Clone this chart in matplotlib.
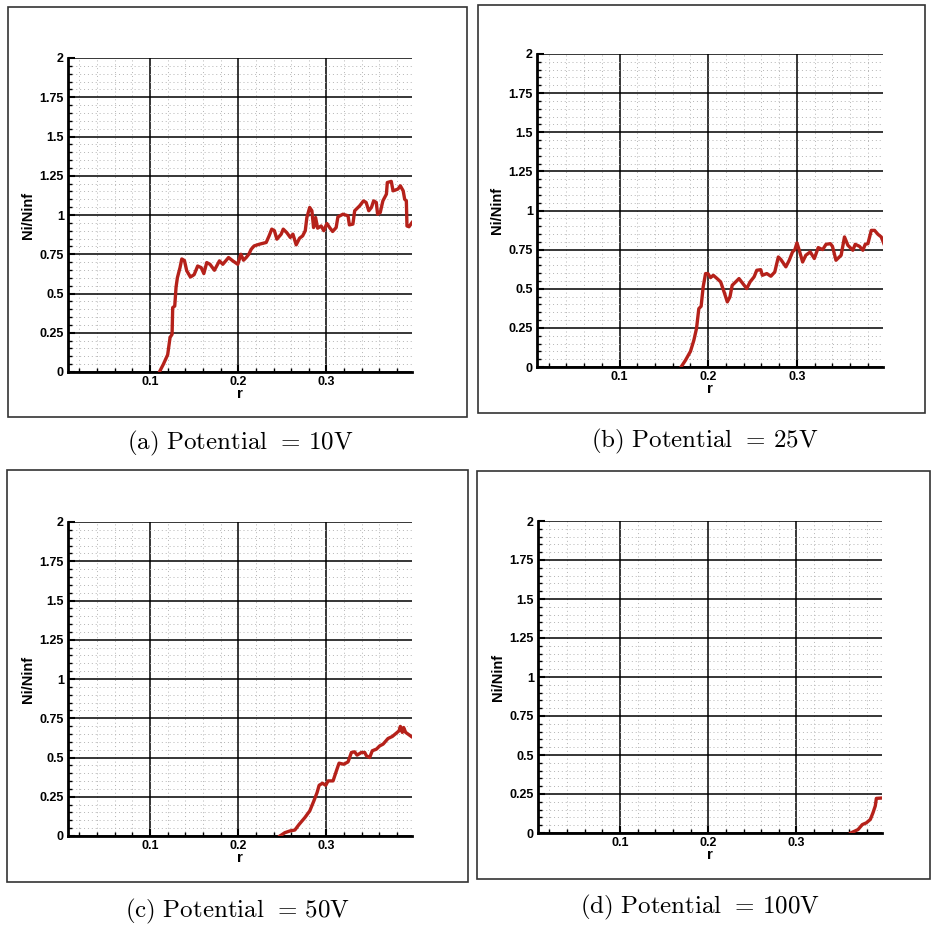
import matplotlib
matplotlib.use('Agg')
import matplotlib.pyplot as plt
import matplotlib.patches as patches
from matplotlib.ticker import MultipleLocator

plt.rcParams['mathtext.fontset'] = 'cm'
plt.rcParams['font.family'] = ['Liberation Sans', 'DejaVu Sans']

# Ni/Ninf profiles along r
r_10v = [0.1106, 0.1151, 0.120, 0.1227, 0.125, 0.1257, 0.128, 0.1295, 0.131, 0.134, 0.136, 0.139,
         0.1416, 0.1458, 0.150, 0.154, 0.158, 0.161, 0.1643, 0.168, 0.173, 0.1787, 0.1825, 0.189,
         0.1938, 0.1995, 0.203, 0.206, 0.209, 0.212, 0.2147, 0.218, 0.224, 0.2317, 0.235, 0.238,
         0.241, 0.2438, 0.2487, 0.251, 0.255, 0.259, 0.262, 0.2657, 0.2695, 0.273, 0.276, 0.2778,
         0.281, 0.2835, 0.2854, 0.2877, 0.290, 0.294, 0.297, 0.3005, 0.3036, 0.307, 0.311, 0.313,
         0.3187, 0.3245, 0.326, 0.330, 0.332, 0.3376, 0.342, 0.345, 0.348, 0.351, 0.3535, 0.3565,
         0.358, 0.361, 0.364, 0.368, 0.369, 0.3735, 0.3755, 0.381, 0.3838, 0.387, 0.3887, 0.3906,
         0.3913, 0.3936, 0.397]
n_10v = [0.0, 0.049, 0.11, 0.22, 0.24, 0.41, 0.42, 0.54, 0.60, 0.665, 0.72, 0.71,
         0.645, 0.605, 0.62, 0.675, 0.665, 0.627, 0.697, 0.686, 0.648, 0.708, 0.686, 0.729,
         0.708, 0.686, 0.75, 0.712, 0.729, 0.75, 0.782, 0.803, 0.814, 0.825, 0.867, 0.91,
         0.90, 0.846, 0.878, 0.91, 0.888, 0.857, 0.878, 0.81, 0.852, 0.867, 0.90, 0.984,
         1.048, 1.027, 0.92, 0.984, 0.916, 0.93, 0.90, 0.946, 0.92, 0.895, 0.92, 0.988,
         1.005, 0.995, 0.937, 0.942, 1.027, 1.058, 1.09, 1.08, 1.027, 1.048, 1.09, 1.08,
         1.005, 1.016, 1.09, 1.133, 1.207, 1.214, 1.154, 1.165, 1.186, 1.154, 1.10, 1.09,
         0.93, 0.925, 0.952]

r_25v = [0.1694, 0.1743, 0.180, 0.1838, 0.1868, 0.1894, 0.192, 0.1943, 0.197, 0.1996, 0.2026,
         0.2057, 0.210, 0.214, 0.2185, 0.2215, 0.2245, 0.227, 0.231, 0.2347, 0.2385, 0.2434,
         0.2472, 0.2517, 0.2547, 0.2592, 0.261, 0.266, 0.2706, 0.275, 0.279, 0.282, 0.2875,
         0.2913, 0.295, 0.2977, 0.300, 0.3026, 0.3064, 0.310, 0.315, 0.3196, 0.324, 0.329,
         0.3328, 0.3377, 0.340, 0.344, 0.3498, 0.3536, 0.3574, 0.363, 0.3657, 0.3705, 0.3743,
         0.377, 0.380, 0.3838, 0.3875, 0.3913, 0.395, 0.398]
n_25v = [0.0, 0.0425, 0.10, 0.171, 0.246, 0.373, 0.388, 0.512, 0.597, 0.597, 0.571,
         0.586, 0.565, 0.544, 0.469, 0.416, 0.448, 0.522, 0.544, 0.565, 0.537, 0.501,
         0.544, 0.576, 0.618, 0.622, 0.586, 0.597, 0.58, 0.607, 0.703, 0.686, 0.64,
         0.682, 0.735, 0.75, 0.793, 0.746, 0.671, 0.714, 0.735, 0.693, 0.763, 0.75,
         0.784, 0.788, 0.771, 0.682, 0.714, 0.831, 0.778, 0.746, 0.784, 0.771, 0.746,
         0.784, 0.788, 0.873, 0.873, 0.848, 0.831, 0.788]

r_50v = [0.2472, 0.2528, 0.2585, 0.2642, 0.269, 0.2755, 0.2811, 0.2857, 0.2894, 0.2917, 0.2955,
         0.2992, 0.3019, 0.3075, 0.3113, 0.3143, 0.3196, 0.3245, 0.3283, 0.332, 0.3347, 0.3396,
         0.3434, 0.3453, 0.349, 0.352, 0.3566, 0.3604, 0.3642, 0.3698, 0.3747, 0.3792, 0.3823,
         0.3838, 0.386, 0.3875, 0.3898, 0.3925, 0.3962]
n_50v = [0.0, 0.021, 0.032, 0.038, 0.074, 0.117, 0.16, 0.223, 0.277, 0.323, 0.336,
         0.323, 0.351, 0.351, 0.415, 0.464, 0.457, 0.472, 0.532, 0.536, 0.515, 0.532,
         0.532, 0.511, 0.50, 0.543, 0.553, 0.574, 0.585, 0.621, 0.634, 0.655, 0.67,
         0.698, 0.66, 0.691, 0.66, 0.649, 0.634]

r_100v = [0.3615, 0.3698, 0.3747, 0.3792, 0.3838, 0.3868, 0.3894, 0.3906, 0.3962]
n_100v = [0.0, 0.022, 0.054, 0.065, 0.087, 0.13, 0.174, 0.222, 0.224]

letters = ['a', 'b', 'c', 'd']
potentials = ['10V', '25V', '50V', '100V']

W, H = 931, 926


def px_rect(left, top, right, bottom):
    # pixel box (from top-left) -> figure fraction rect
    return [left / W, (H - bottom) / H, (right - left) / W, (bottom - top) / H]


def draw_panel(fig, axrect, boxrect, r, n, letter, volts, cap_xy):
    # outer frame around each tecplot image
    l, t, rr, b = boxrect
    fig.add_artist(patches.Rectangle((l / W, (H - b) / H), (rr - l) / W, (b - t) / H,
                                     transform=fig.transFigure, fill=False,
                                     edgecolor='#333333', linewidth=1.2))

    ax = fig.add_axes(px_rect(*axrect))
    ax.plot(r, n, color='#b5211a', linewidth=2.4, solid_joinstyle='round', zorder=5)

    ax.set_xlim(0.007, 0.397)
    ax.set_ylim(0, 2)
    ax.xaxis.set_minor_locator(MultipleLocator(0.02))
    ax.yaxis.set_minor_locator(MultipleLocator(0.05))
    ax.set_yticks([0, 0.25, 0.5, 0.75, 1, 1.25, 1.5, 1.75, 2])
    ax.set_yticklabels(['0', '0.25', '0.5', '0.75', '1', '1.25', '1.5', '1.75', '2'])
    ax.set_xticks([0.1, 0.2, 0.3])
    ax.set_xticklabels(['0.1', '0.2', '0.3'])

    ax.grid(which='major', color='black', linewidth=1.1, linestyle='-')
    ax.grid(which='minor', color='#b4b4b4', linewidth=0.7, linestyle=(0, (1, 3)))
    ax.set_axisbelow(True)

    for side in ['top', 'right']:
        ax.spines[side].set_visible(False)
    for side in ['left', 'bottom']:
        ax.spines[side].set_linewidth(2.0)

    ax.tick_params(which='both', direction='in', top=False, right=False)
    ax.tick_params(which='major', length=5, width=1.5, labelsize=9, pad=3)
    ax.tick_params(which='minor', length=3, width=1.0)
    for lab in ax.get_xticklabels() + ax.get_yticklabels():
        lab.set_fontweight('bold')

    ax.set_xlabel('r', fontsize=11, fontweight='bold', labelpad=-1)
    ax.set_ylabel('Ni/Ninf', fontsize=10.5, fontweight='bold', labelpad=3)

    caption = '$\\mathrm{(%s)\\ Potential}\\;\\,=\\,\\mathrm{%s}$' % (letter, volts)
    fig.text(cap_xy[0] / W, 1 - cap_xy[1] / H, caption, fontsize=18, ha='center', va='center')


fig = plt.figure(figsize=(9.31, 9.26), dpi=100)

draw_panel(fig, (68, 58, 412, 372), (8, 7, 467, 417), r_10v, n_10v,
           letters[0], potentials[0], (240, 443))
draw_panel(fig, (537, 54, 883, 367), (478, 5, 925, 413), r_25v, n_25v,
           letters[1], potentials[1], (705, 441))
draw_panel(fig, (68, 522, 412, 836), (7, 470, 468, 882), r_50v, n_50v,
           letters[2], potentials[2], (237, 911))
draw_panel(fig, (538, 521, 882, 833), (477, 471, 930, 879), r_100v, n_100v,
           letters[3], potentials[3], (700, 907))

plt.savefig('out.png', dpi=100)
